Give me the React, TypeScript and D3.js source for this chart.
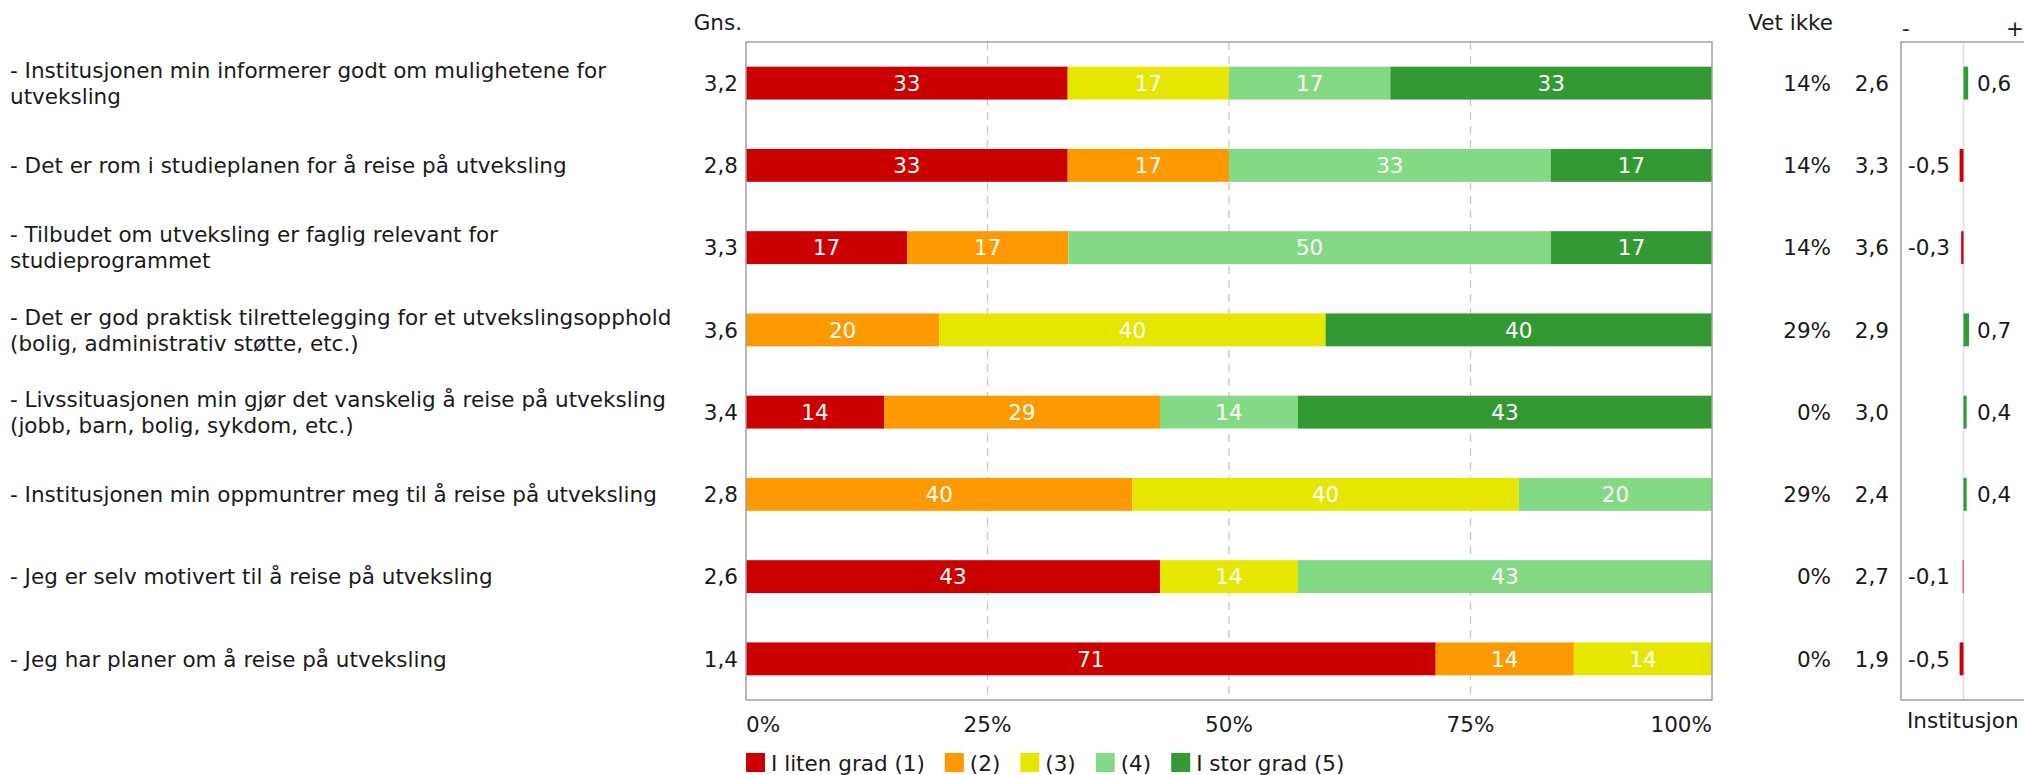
import React from "react";
import * as d3 from "d3";

const categories: string[][] = [
  ["- Institusjonen min informerer godt om mulighetene for", "utveksling"],
  ["- Det er rom i studieplanen for å reise på utveksling"],
  ["- Tilbudet om utveksling er faglig relevant for", "studieprogrammet"],
  ["- Det er god praktisk tilrettelegging for et utvekslingsopphold", "(bolig, administrativ støtte, etc.)"],
  ["- Livssituasjonen min gjør det vanskelig å reise på utveksling", "(jobb, barn, bolig, sykdom, etc.)"],
  ["- Institusjonen min oppmuntrer meg til å reise på utveksling"],
  ["- Jeg er selv motivert til å reise på utveksling"],
  ["- Jeg har planer om å reise på utveksling"],
];

const seriesNames = ["I liten grad (1)", "(2)", "(3)", "(4)", "I stor grad (5)"];
const seriesColors = ["#cc0000", "#ff9900", "#e6e600", "#84d984", "#339933"];

// percentages per answer category (bar labels show the rounded value)
const grade1 = [33.3, 33.3, 16.7, 0, 14.3, 0, 42.9, 71.4];
const grade2 = [0, 16.7, 16.7, 20, 28.6, 40, 0, 14.3];
const grade3 = [16.7, 0, 0, 40, 0, 40, 14.3, 14.3];
const grade4 = [16.7, 33.3, 50, 0, 14.3, 20, 42.9, 0];
const grade5 = [33.3, 16.7, 16.7, 40, 42.9, 0, 0, 0];

const means = ["3,2", "2,8", "3,3", "3,6", "3,4", "2,8", "2,6", "1,4"];
const vetIkke = [14, 14, 14, 29, 0, 29, 0, 0];
const instMeans = ["2,6", "3,3", "3,6", "2,9", "3,0", "2,4", "2,7", "1,9"];
const diffs = [0.6, -0.5, -0.3, 0.7, 0.4, 0.4, -0.1, -0.5];

const xTicks = [0, 25, 50, 75, 100];

const W = 2024;
const H = 775;
const FS = 21.5;
const FONT = "'DejaVu Sans', Verdana, sans-serif";
const TXT = "#1a1a1a";

function measure(text: string): number {
  const c = document.createElement("canvas").getContext("2d");
  if (!c) return text.length * FS * 0.6;
  c.font = `${FS}px 'DejaVu Sans'`;
  return c.measureText(text).width;
}

export default function App() {
  const series = [grade1, grade2, grade3, grade4, grade5];
  const idx = categories.map((_, i) => i);

  const x = d3.scaleLinear().domain([0, 100]).range([746, 1712]);
  const y = d3
    .scaleBand<number>()
    .domain(idx)
    .range([42, 700])
    .paddingInner(0.6)
    .paddingOuter(0.3);
  const dx = d3.scaleLinear().domain([-8, 8]).range([1901, 2026]);

  const [top, bottom] = y.range();
  const bw = y.bandwidth();
  const cy = (i: number) => (y(i) as number) + bw / 2;
  const base = FS * 0.36;

  const rows = idx.map((i) => {
    const vals = series.map((s) => s[i]);
    const total = d3.sum(vals);
    let acc = 0;
    return vals.map((v, k) => {
      const start = acc;
      acc += (v / total) * 100;
      return { v, k, x0: start, x1: acc };
    });
  });

  const fmt = (v: number) => (v < 0 ? "-" : "") + Math.abs(v).toFixed(1).replace(".", ",");

  let lx = x(0);
  const legend = seriesNames.map((name, k) => {
    const item = { name, k, x: lx };
    lx += 25 + measure(name) + 20;
    return item;
  });

  return (
    <div style={{ position: "absolute", left: 0, top: 0, width: W, height: H, overflow: "hidden", background: "#fff" }}>
      <svg width={W} height={H} fontFamily={FONT} fontSize={FS}>
        <rect x={0} y={0} width={W} height={H} fill="#fff" />

        {categories.map((lines, i) => {
          const lh = 26;
          const y0 = cy(i) - ((lines.length - 1) * lh) / 2 + base;
          return (
            <text key={"c" + i} x={10} fill={TXT}>
              {lines.map((l, j) => (
                <tspan key={j} x={10} y={y0 + j * lh}>
                  {l}
                </tspan>
              ))}
            </text>
          );
        })}

        <text x={742} y={30} textAnchor="end" fill={TXT}>
          Gns.
        </text>
        {means.map((m, i) => (
          <text key={"m" + i} x={738} y={cy(i) + base} textAnchor="end" fill={TXT}>
            {m}
          </text>
        ))}

        {xTicks.slice(1, -1).map((t) => (
          <line
            key={"g" + t}
            x1={x(t)}
            x2={x(t)}
            y1={top}
            y2={bottom}
            stroke="#c8c8c8"
            strokeWidth={1.3}
            strokeDasharray="8,6"
          />
        ))}

        {rows.map((segs, i) =>
          segs
            .filter((s) => s.v > 0)
            .map((s) => (
              <g key={`b${i}-${s.k}`}>
                <rect x={x(s.x0)} y={y(i)} width={x(s.x1) - x(s.x0)} height={bw} fill={seriesColors[s.k]} />
                <text x={(x(s.x0) + x(s.x1)) / 2} y={cy(i) + base} textAnchor="middle" fill="#fff">
                  {Math.round(s.v)}
                </text>
              </g>
            ))
        )}

        <rect x={x(0)} y={top} width={x(100) - x(0)} height={bottom - top} fill="none" stroke="#a0a0a0" strokeWidth={1.5} />

        {xTicks.map((t, k) => (
          <text
            key={"t" + t}
            x={x(t)}
            y={732}
            textAnchor={k === 0 ? "start" : k === xTicks.length - 1 ? "end" : "middle"}
            fill={TXT}
          >
            {t}%
          </text>
        ))}

        {legend.map((it) => (
          <g key={"l" + it.k}>
            <rect x={it.x} y={753} width={19} height={19} fill={seriesColors[it.k]} />
            <text x={it.x + 25} y={770.5} fill={TXT}>
              {it.name}
            </text>
          </g>
        ))}

        <text x={1833} y={30} textAnchor="end" fill={TXT}>
          Vet ikke
        </text>
        {vetIkke.map((v, i) => (
          <text key={"v" + i} x={1831} y={cy(i) + base} textAnchor="end" fill={TXT}>
            {v}%
          </text>
        ))}
        {instMeans.map((v, i) => (
          <text key={"im" + i} x={1889} y={cy(i) + base} textAnchor="end" fill={TXT}>
            {v}
          </text>
        ))}

        <line x1={dx(0)} x2={dx(0)} y1={top} y2={bottom} stroke="#dcdcf0" strokeWidth={1.5} />
        <path
          d={`M${dx(8)},${top} H${dx(-8)} V${bottom} H${dx(8)}`}
          fill="none"
          stroke="#a0a0a0"
          strokeWidth={1.5}
        />
        <text x={dx(-8) + 1} y={36} fill={TXT}>
          -
        </text>
        <text x={dx(8) - 2} y={36} textAnchor="end" fill={TXT}>
          +
        </text>
        {diffs.map((d, i) => (
          <g key={"d" + i}>
            <rect
              x={Math.min(dx(0), dx(d))}
              y={y(i)}
              width={Math.abs(dx(d) - dx(0))}
              height={bw}
              fill={d >= 0 ? "#339933" : "#cc0000"}
            />
            <text
              x={d >= 0 ? dx(0) + 13.5 : dx(0) - 13.5}
              y={cy(i) + base}
              textAnchor={d >= 0 ? "start" : "end"}
              fill={TXT}
            >
              {fmt(d)}
            </text>
          </g>
        ))}
        <text x={1907} y={728} fill={TXT}>
          Institusjon
        </text>
      </svg>
    </div>
  );
}
